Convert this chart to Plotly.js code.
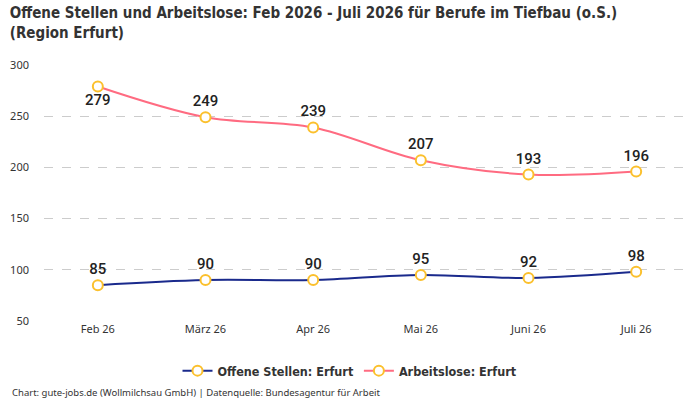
<!DOCTYPE html>
<html>
<head>
<meta charset="utf-8">
<script src="https://cdn.plot.ly/plotly-3.0.1.min.js"></script>
<style>
  html, body { margin: 0; padding: 0; background: #fff; }
  #plot { width: 700px; height: 400px; }
</style>
</head>
<body>
<div id="plot"></div>
<script>
'use strict';

const months = ['Feb 26', 'März 26', 'Apr 26', 'Mai 26', 'Juni 26', 'Juli 26'];
const offeneStellen = [85, 90, 90, 95, 92, 98];
const arbeitslose = [279, 249, 239, 207, 193, 196];
const arbeitsloseLabelPos = ['bottom center', 'top center', 'top center', 'top center', 'top center', 'top center'];

const condensed = 'DejaVu Sans Condensed, Liberation Sans Narrow, Roboto, sans-serif';

const markerStyle = {
  size: 10,
  color: '#ffffff',
  line: {color: '#fbc02d', width: 2}
};

const labelFont = {family: 'Roboto, sans-serif', size: 15, color: '#222', weight: 500};

var traceOffen = {
  type: 'scatter',
  mode: 'lines+markers+text',
  name: 'Offene Stellen: Erfurt',
  x: months,
  y: offeneStellen,
  text: offeneStellen.map(String),
  textposition: 'top center',
  textfont: labelFont,
  line: {color: '#1a2a8c', width: 2, shape: 'spline'},
  marker: markerStyle,
  cliponaxis: false
};

var traceArbeitslose = {
  type: 'scatter',
  mode: 'lines+markers+text',
  name: 'Arbeitslose: Erfurt',
  x: months,
  y: arbeitslose,
  text: arbeitslose.map(String),
  textposition: arbeitsloseLabelPos,
  textfont: labelFont,
  line: {color: '#ff6b81', width: 2, shape: 'spline'},
  marker: markerStyle,
  cliponaxis: false
};

var layout = {
  width: 700,
  height: 400,
  paper_bgcolor: '#ffffff',
  plot_bgcolor: '#ffffff',
  font: {family: 'Noto Sans, sans-serif', size: 11, color: '#333'},
  margin: {l: 44, r: 10, t: 65, b: 79, autoexpand: false},
  title: {
    text: '<b>Offene Stellen und Arbeitslose: Feb 2026 - Juli 2026 für Berufe im Tiefbau (o.S.)<br>(Region Erfurt)</b>',
    font: {family: condensed, size: 15, color: '#333'},
    x: 0.014,
    xanchor: 'left',
    xref: 'container',
    yref: 'container',
    y: 0.955,
    yanchor: 'top'
  },
  xaxis: {
    type: 'category',
    range: [-0.5, 5.5],
    showgrid: false,
    zeroline: false,
    showline: false,
    ticks: '',
    tickfont: {size: 11, color: '#333'}
  },
  yaxis: {
    range: [50, 300],
    tickvals: [50, 100, 150, 200, 250, 300],
    showgrid: true,
    gridcolor: '#cccccc',
    griddash: 'dash',
    zeroline: false,
    showline: false,
    ticks: '',
    ticklabelstandoff: 14,
    tickfont: {size: 11, color: '#333'}
  },
  showlegend: true,
  legend: {
    orientation: 'h',
    x: 0.5,
    xref: 'container',
    xanchor: 'center',
    y: 0.0725,
    yref: 'container',
    yanchor: 'middle',
    font: {family: condensed, size: 12.5, color: '#333', weight: 'bold'}
  },
  annotations: [{
    text: 'Chart: gute-jobs.de (Wollmilchsau GmbH) | Datenquelle: Bundesagentur für Arbeit',
    xref: 'paper',
    yref: 'paper',
    x: -0.052,
    y: -0.28,
    xanchor: 'left',
    yanchor: 'middle',
    showarrow: false,
    font: {size: 9.5, color: '#333'}
  }]
};

var config = {
  displayModeBar: false,
  responsive: false
};

Plotly.newPlot('plot', [traceOffen, traceArbeitslose], layout, config);
</script>
</body>
</html>
